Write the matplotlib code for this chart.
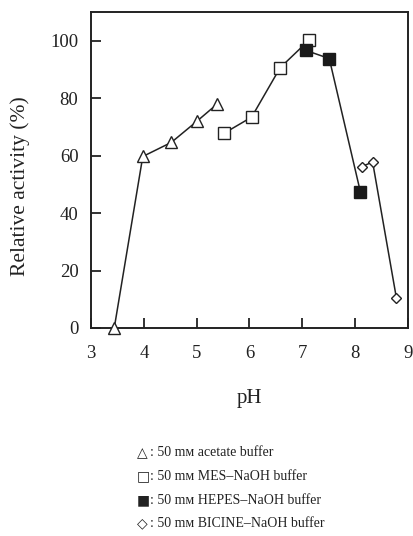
import matplotlib
matplotlib.use("Agg")
import matplotlib.pyplot as plt

plt.rcParams.update({
    "font.family": ["Liberation Serif", "DejaVu Serif"],
})

# acetate buffer (open triangles)
ph_acetate = [3.44, 3.98, 4.52, 5.00, 5.39]
act_acetate = [0.0, 59.7, 64.6, 71.9, 78.0]

# MES-NaOH buffer (open squares)
ph_mes = [5.52, 6.04, 6.58, 7.12]
act_mes = [67.8, 73.4, 90.6, 100.1]

# HEPES-NaOH buffer (filled squares)
ph_hepes = [7.07, 7.51, 8.10]
act_hepes = [96.6, 93.8, 47.3]

# BICINE-NaOH buffer (open diamonds)
ph_bicine = [8.13, 8.33, 8.78]
act_bicine = [56.2, 57.8, 10.5]

xticks = [3, 4, 5, 6, 7, 8, 9]
yticks = [0, 20, 40, 60, 80, 100]

legend_symbols = ["\u25b3", "\u25a1", "\u25a0", "\u25c7"]
legend_texts = [
    ": 50 m\u1d0d acetate buffer",
    ": 50 m\u1d0d MES\u2013NaOH buffer",
    ": 50 m\u1d0d HEPES\u2013NaOH buffer",
    ": 50 m\u1d0d BICINE\u2013NaOH buffer",
]

W, H = 414, 536
fig = plt.figure(figsize=(W / 100, H / 100), dpi=100)
ax = fig.add_axes([91 / W, 1 - 328 / H, 317 / W, 316 / H])

ink = "#222222"
ln = dict(color=ink, lw=1.1, clip_on=False)
ax.plot(ph_acetate, act_acetate, marker="^", ms=8.5, mfc="white", mec=ink,
        mew=1.0, zorder=3, **ln)
ax.plot(ph_mes, act_mes, marker="s", ms=8, mfc="white", mec=ink,
        mew=1.0, zorder=3, **ln)
ax.plot(ph_hepes, act_hepes, marker="s", ms=8, mfc="#1a1a1a", mec="#1a1a1a",
        mew=1.0, zorder=4, **ln)
ax.plot(ph_bicine, act_bicine, marker="D", ms=5.5, mfc="white", mec=ink,
        mew=1.0, zorder=3, **ln)

ax.set_xlim(3, 9)
ax.set_ylim(0, 110)
ax.set_xticks(xticks)
ax.set_yticks(yticks)

for s in ax.spines.values():
    s.set_linewidth(1.4)
    s.set_color(ink)

ax.tick_params(axis="x", direction="in", length=7, width=1.3, pad=12,
               labelsize=13.5, colors=ink)
ax.tick_params(axis="y", direction="in", length=7, width=1.3, pad=9,
               labelsize=13.5, colors=ink)

ax.set_xlabel("pH", fontsize=15, labelpad=20, color=ink)
fig.text(20 / W, 1 - 186 / H, "Relative activity (%)", fontsize=15.5,
         rotation=90, ha="center", va="center", color=ink)

for i, (sym, t) in enumerate(zip(legend_symbols, legend_texts)):
    y = 1 - (453 + 23.5 * i) / H
    fig.text(137 / W, y, sym, fontsize=10, family="DejaVu Sans",
             va="center", ha="left", color=ink)
    fig.text(150 / W, y, t, fontsize=10, va="center", ha="left", color=ink)

fig.savefig("out.png", dpi=100)
